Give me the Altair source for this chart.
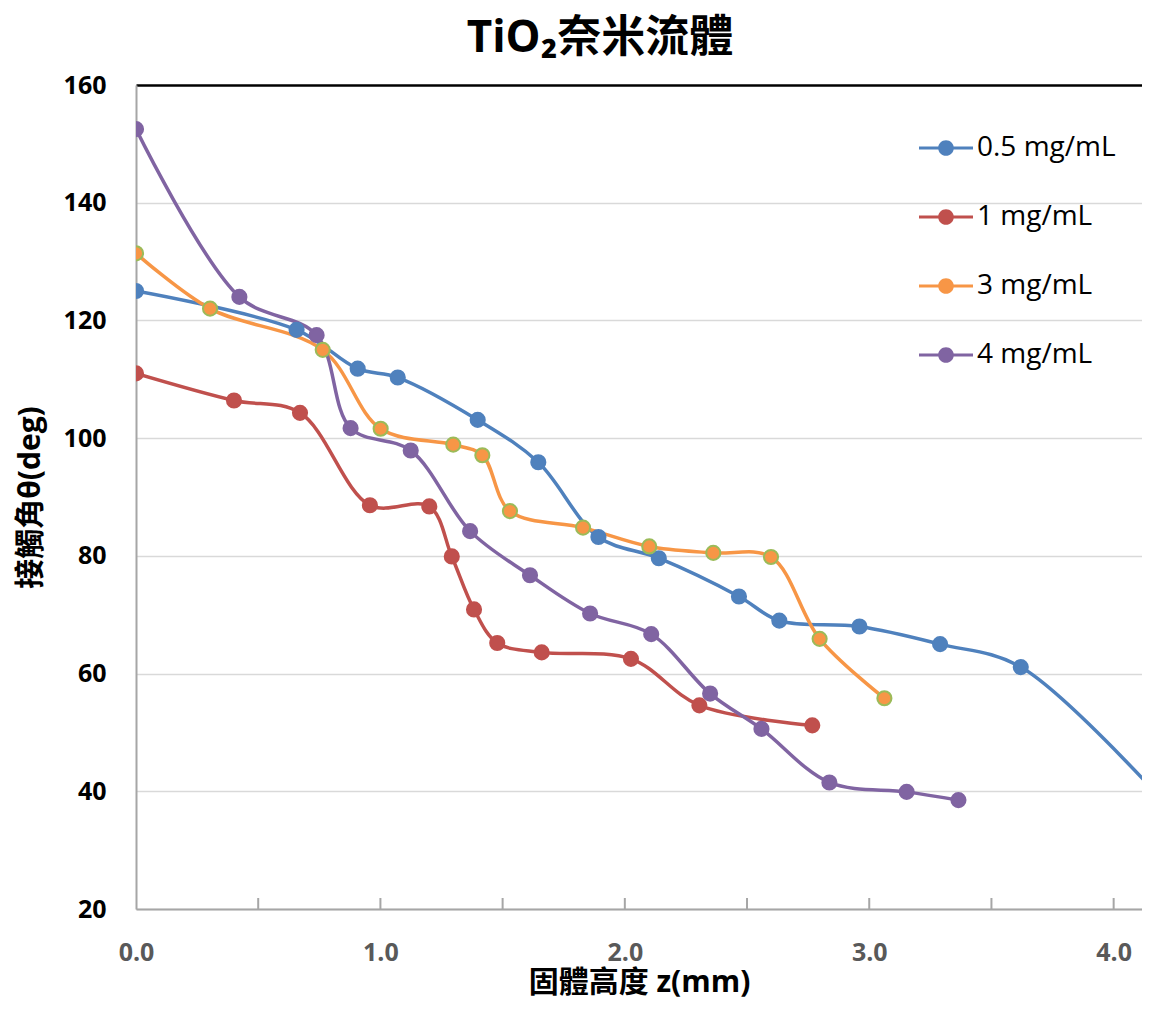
import altair as alt
import pandas as pd

series_names = ["0.5 mg/mL", "1 mg/mL", "3 mg/mL", "4 mg/mL"]
line_colors = ["#4F81BD", "#C0504D", "#F79646", "#8064A2"]
marker_edges = ["#4F81BD", "#C0504D", "#9BBB59", "#8064A2"]

# 0.5 mg/mL (last point lies beyond the visible right edge)
z_05 = [0.0, 0.657, 0.907, 1.071, 1.398, 1.646, 1.892, 2.139, 2.467, 2.632, 2.960, 3.290, 3.620, 4.30]
theta_05 = [125.0, 118.4, 111.8, 110.3, 103.1, 95.9, 83.2, 79.6, 73.1, 69.0, 68.0, 65.0, 61.1, 34.0]
# 1 mg/mL
z_1 = [0.0, 0.401, 0.671, 0.957, 1.200, 1.292, 1.383, 1.478, 1.660, 2.025, 2.305, 2.767]
theta_1 = [111.0, 106.4, 104.3, 88.6, 88.4, 79.9, 70.9, 65.2, 63.6, 62.5, 54.6, 51.2]
# 3 mg/mL
z_3 = [0.0, 0.303, 0.764, 1.001, 1.298, 1.417, 1.530, 1.829, 2.100, 2.362, 2.598, 2.797, 3.062]
theta_3 = [131.4, 122.0, 115.0, 101.6, 98.9, 97.1, 87.6, 84.8, 81.6, 80.5, 79.8, 65.9, 55.8]
# 4 mg/mL
z_4 = [0.0, 0.423, 0.739, 0.878, 1.124, 1.367, 1.612, 1.858, 2.108, 2.349, 2.559, 2.837, 3.153, 3.365]
theta_4 = [152.5, 124.0, 117.5, 101.7, 97.9, 84.2, 76.7, 70.2, 66.7, 56.6, 50.6, 41.5, 39.9, 38.5]

x_tick_labels = [0, 1, 2, 3, 4]
x_minor_ticks = [0.5, 1.0, 1.5, 2.0, 2.5, 3.0, 3.5, 4.0]
y_tick_labels = [20, 40, 60, 80, 100, 120, 140, 160]

rows = []
for name, zs, ts in zip(series_names, [z_05, z_1, z_3, z_4], [theta_05, theta_1, theta_3, theta_4]):
    for i, (z, t) in enumerate(zip(zs, ts)):
        rows.append({"series": name, "edge": name, "z": z, "theta": t, "order": i})
df = pd.DataFrame(rows)
ticks_df = pd.DataFrame({"z": x_minor_ticks})

FONT = "Open Sans, Noto Sans CJK TC, sans-serif"
X_MAX = 4.116

x_scale = alt.Scale(domain=[0, X_MAX], nice=False, zero=False)
y_scale = alt.Scale(domain=[20, 160], nice=False, zero=False)

x_enc = alt.X(
    "z:Q", scale=x_scale,
    axis=alt.Axis(
        values=x_tick_labels, format=".1f", grid=False, ticks=False, labelFlush=False,
        labelFont=FONT, labelFontSize=25, labelFontWeight="bold", labelColor="#595959",
        labelPadding=31, domainColor="#A6A6A6", domainWidth=2,
        title="固體高度 z(mm)", titleFont=FONT, titleFontSize=30, titleFontWeight="bold",
        titleColor="#000000", titleY=88, titleBaseline="bottom",
    ),
)
y_enc = alt.Y(
    "theta:Q", scale=y_scale,
    axis=alt.Axis(
        values=y_tick_labels, format="d", ticks=False, labelFlush=False,
        labelFont=FONT, labelFontSize=25, labelFontWeight="bold", labelColor="#000000",
        labelPadding=30, domainColor="#A6A6A6", domainWidth=2,
        gridColor={"condition": {"test": "datum.value === 160", "value": "#000000"}, "value": "#D9D9D9"},
        gridWidth={"condition": {"test": "datum.value === 160", "value": 2.5}, "value": 1.5},
        title="接觸角θ(deg)", titleFont=FONT, titleFontSize=30, titleFontWeight="bold",
        titleColor="#000000", titleX=-106, titleY=412, titleAngle=-90,
        titleBaseline="middle", titleAlign="center",
    ),
)

legend_symbol = ("M-1,-0.06H1V0.06H-1Z "
                 "M0.29,0A0.29,0.29,0,1,1,-0.29,0A0.29,0.29,0,1,1,0.29,0Z")

lines = alt.Chart(df).mark_line(interpolate="catmull-rom", strokeWidth=3.5, clip=True).encode(
    x=x_enc, y=y_enc,
    color=alt.Color("series:N", scale=alt.Scale(domain=series_names, range=line_colors), legend=None),
    order="order:Q",
    detail="series:N",
)

points = alt.Chart(df).mark_point(filled=False, shape="circle", size=200, strokeWidth=2,
                                   opacity=1, clip=True).encode(
    x="z:Q", y="theta:Q",
    fill=alt.Fill(
        "series:N", scale=alt.Scale(domain=series_names, range=line_colors),
        legend=alt.Legend(
            title=None, orient="none", legendX=783, legendY=36, direction="vertical",
            symbolType=legend_symbol, symbolSize=2916, symbolStrokeWidth=0,
            symbolOpacity=1, rowPadding=28, labelOffset=4, padding=0,
            labelFont=FONT, labelFontSize=28, labelColor="#000000", labelLimit=300,
        ),
    ),
    stroke=alt.Stroke("edge:N", scale=alt.Scale(domain=series_names, range=marker_edges), legend=None),
)

minor_ticks = alt.Chart(ticks_df).mark_rule(color="#A6A6A6", strokeWidth=2).encode(
    x=alt.X("z:Q", scale=x_scale),
    y=alt.value(824),
    y2=alt.value(813),
)

chart = alt.layer(minor_ticks, lines, points).properties(
    width=1006,
    height=824,
    autosize=alt.AutoSizeParams(type="none"),
    padding={"left": 128, "top": 77, "right": 0, "bottom": 91},
    title=alt.Title(
        "TiO₂奈米流體", font=FONT, fontSize=44, fontWeight="bold", color="#000000",
        anchor="middle", frame="group", dx=-39, dy=49, offset=26, baseline="alphabetic",
    ),
).resolve_scale(fill="independent", stroke="independent").configure_view(stroke=None).configure(background="white")

chart.save("out.html", embed_options={"renderer": "svg", "actions": False})
